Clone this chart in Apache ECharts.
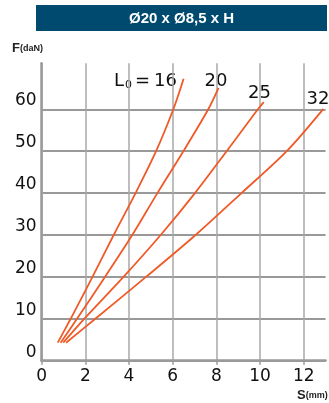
<!DOCTYPE html>
<html><head><meta charset="utf-8">
<script src="https://cdn.jsdelivr.net/npm/echarts@6/dist/echarts.min.js"></script>
<style>html,body{margin:0;padding:0;background:#fff}#c{width:329px;height:403px}</style>
</head><body><div id="c"></div>
<script>
const titleText = 'Ø20 x Ø8,5 x H';
const xTicks = [0, 2, 4, 6, 8, 10, 12];
const yTicks = [0, 10, 20, 30, 40, 50, 60];
const lengths = ['16', '20', '25', '32'];
const l16_s = [0.74, 1.33, 2.33, 3.30, 4.30, 5.24, 6.03, 6.50];
const l16_f = [4.3, 10, 20, 30, 40, 50, 60, 67.3];
const l20_s = [0.87, 1.62, 2.90, 4.15, 5.30, 6.49, 7.63, 8.10];
const l20_f = [4.3, 10, 20, 30, 40, 50, 60, 65.1];
const l25_s = [0.99, 1.95, 3.75, 5.45, 7.02, 8.47, 9.90, 10.17];
const l25_f = [4.3, 10, 20, 30, 40, 50, 60, 61.7];
const l32_s = [1.12, 2.46, 4.78, 7.05, 9.15, 11.22, 12.90];
const l32_f = [4.3, 10, 20, 30, 40, 50, 60.1];

const curves = [[l16_s, l16_f], [l20_s, l20_f], [l25_s, l25_f], [l32_s, l32_f]];
const chart = echarts.init(document.getElementById('c'), null, {renderer: 'canvas'});
const gridCol = '#a9a9a9';
const hGridCol = '#999999';
const axisCol = '#9a9a9a';
const font = 'DejaVu Sans';
// split-line colours cycle per tick: grey for the labelled ticks, white above
const ySplitColors = yTicks.map(() => hGridCol).concat(['#ffffff', '#ffffff']);

chart.setOption({
  animation: false,
  backgroundColor: '#fff',
  grid: {left: 41.6, right: 3.4, top: 63.2, bottom: 42.3},
  xAxis: {
    type: 'value', min: 0, max: 13, interval: 2,
    axisLine: {show: true, lineStyle: {color: axisCol, width: 2.5}},
    axisTick: {show: true, length: 4, customValues: xTicks, lineStyle: {color: axisCol, width: 1.5}},
    axisLabel: {customValues: xTicks, color: '#111', fontFamily: font, fontSize: 17, margin: 7},
    splitLine: {show: true, lineStyle: {color: gridCol, width: 1.5}}
  },
  yAxis: {
    type: 'value', min: 0, max: 71, interval: 10,
    axisLine: {show: true, lineStyle: {color: axisCol, width: 2.5}},
    axisTick: {show: false},
    axisLabel: {color: '#111', fontFamily: font, fontSize: 17, margin: 5, verticalAlign: 'bottom',
      formatter: v => (yTicks.indexOf(v) >= 0 ? String(v) : '')},
    splitLine: {show: true, lineStyle: {color: ySplitColors, width: 2}}
  },
  series: curves.map((c, i) => ({
    type: 'line', name: lengths[i], smooth: 0.3, symbol: 'none', z: 3,
    lineStyle: {color: '#f05a28', width: 1.8},
    data: c[0].map((s, j) => [s, c[1][j]])
  })),
  graphic: [
    {type: 'rect', shape: {x: 36, y: 5, width: 291, height: 26}, style: {fill: '#004a70'}},
    {type: 'text', x: 181.5, y: 18.5, style: {text: titleText, fill: '#fff', font: 'bold 15px "Liberation Sans", Arial', align: 'center', verticalAlign: 'middle'}},
    {type: 'text', x: 12, y: 55, style: {text: '{a|F}{b|(daN)}', rich: {a: {font: 'bold 13px "Liberation Sans Narrow", "Liberation Sans"', fill: '#222'}, b: {font: 'bold 9px "Liberation Sans Narrow", "Liberation Sans"', fill: '#222'}}, verticalAlign: 'bottom'}},
    {type: 'text', x: 297, y: 402, style: {text: '{a|S}{b|(mm)}', rich: {a: {font: 'bold 13px "Liberation Sans Narrow", "Liberation Sans"', fill: '#222'}, b: {font: 'bold 9px "Liberation Sans Narrow", "Liberation Sans"', fill: '#222'}}, verticalAlign: 'bottom'}},
    {type: 'text', x: 177, y: 81, style: {text: '{a|L}{b|0}{a|=}{c|' + lengths[0] + '}', align: 'right', verticalAlign: 'middle', rich: {a: {font: '18px "DejaVu Sans"', fill: '#111'}, c: {font: '18px "DejaVu Sans"', fill: '#111', padding: [0, 0, 0, 4]}, b: {font: '11px "DejaVu Sans"', fill: '#111', padding: [8, 3, 0, 1]}}}},
    {type: 'text', x: 216, y: 81, style: {text: lengths[1], font: '18px "DejaVu Sans"', fill: '#111', align: 'center', verticalAlign: 'middle'}},
    {type: 'text', x: 259.5, y: 93, style: {text: lengths[2], font: '18px "DejaVu Sans"', fill: '#111', align: 'center', verticalAlign: 'middle'}},
    {type: 'text', x: 318, y: 99.5, style: {text: lengths[3], font: '18px "DejaVu Sans"', fill: '#111', align: 'center', verticalAlign: 'middle'}}
  ]
});
</script></body></html>
